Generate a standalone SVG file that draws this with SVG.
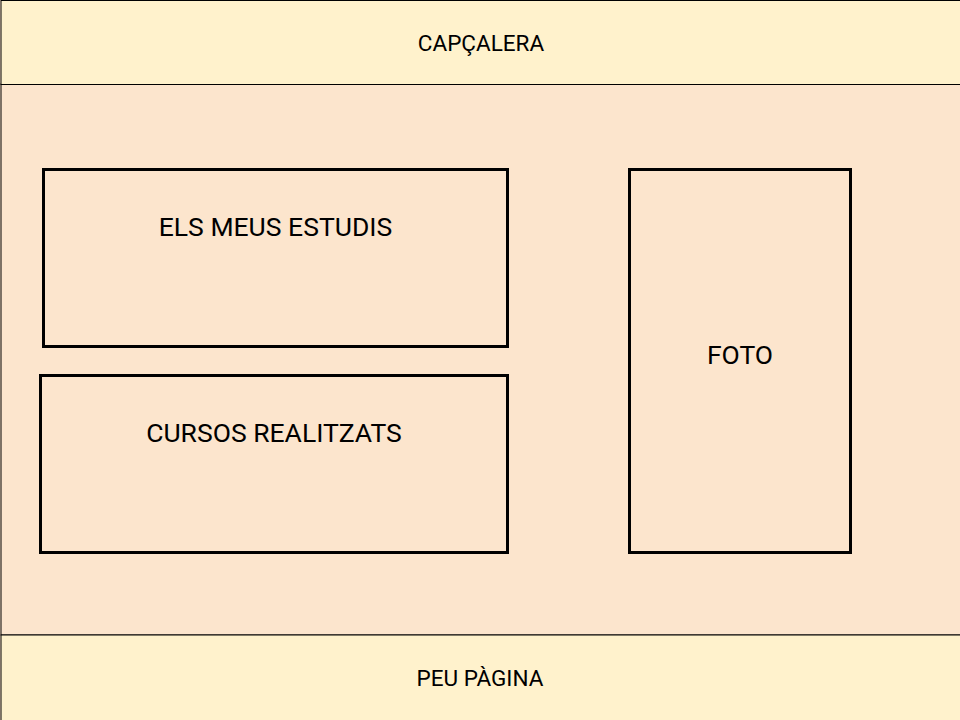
<svg xmlns="http://www.w3.org/2000/svg" width="960" height="720" viewBox="0 0 960 720">
<style>
.band{fill:#fff2cc;stroke:#000;stroke-width:1}
.mid{fill:#fce5cd;stroke:#000;stroke-width:1}
.box{fill:none;stroke:#000;stroke-width:3}
.t{font-family:Roboto,"Liberation Sans",sans-serif;fill:#000;text-anchor:middle}
.s{font-size:22.5px}
.l{font-size:26.5px}
</style>
<rect width="960" height="720" fill="#fce5cd"/>
<g id="main">
<rect class="mid" x="1" y="84" width="970" height="551"/>
</g>
<g id="header">
<rect class="band" x="1" y="0.5" width="970" height="84"/>
<text class="t s" x="481" y="51">CAPÇALERA</text>
</g>
<g id="footer">
<rect class="band" x="1" y="635" width="970" height="95"/>
<text class="t s" x="480" y="686">PEU PÀGINA</text>
</g>
<g id="estudis">
<rect class="box" x="43.5" y="169.5" width="464" height="177"/>
<text class="t l" x="275.5" y="236">ELS MEUS ESTUDIS</text>
</g>
<g id="cursos">
<rect class="box" x="40.5" y="375.5" width="467" height="177"/>
<text class="t l" x="274" y="442">CURSOS REALITZATS</text>
</g>
<g id="foto">
<rect class="box" x="629.5" y="169.5" width="221" height="383"/>
<text class="t l" x="740" y="364">FOTO</text>
</g>
<g id="connectors"/>
</svg>
